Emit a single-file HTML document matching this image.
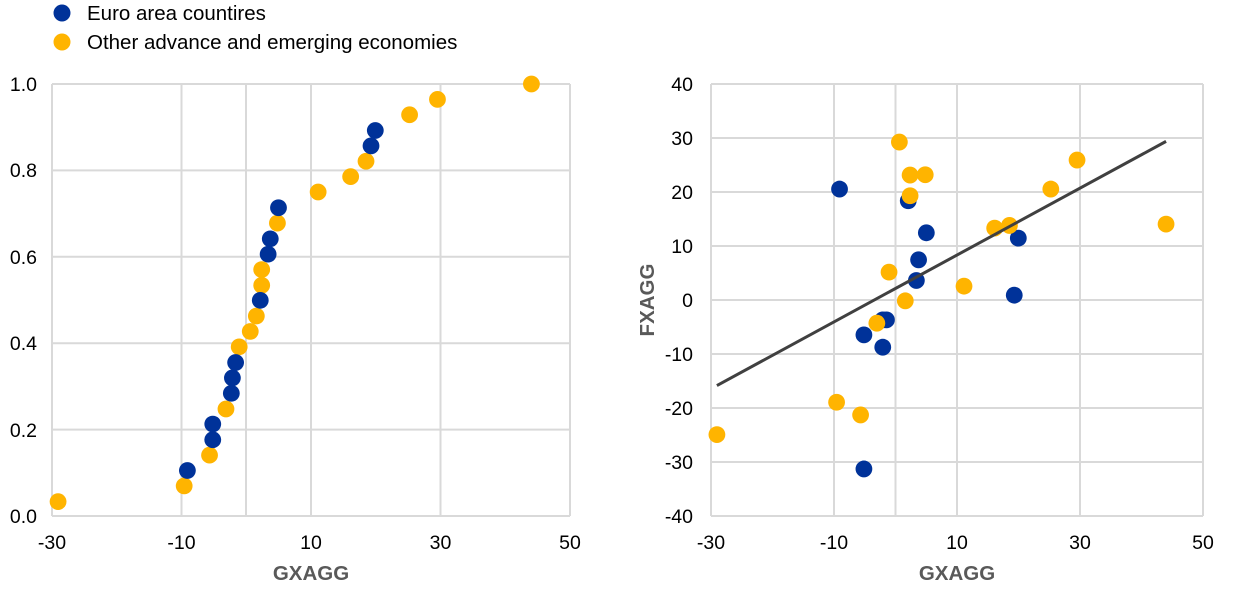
<!DOCTYPE html>
<html><head><meta charset="utf-8"><style>
body{margin:0;background:#fff;}
svg{display:block;font-family:"Liberation Sans",Arial,sans-serif;}
</style></head><body>
<svg width="1240" height="591" viewBox="0 0 1240 591">
<!-- legend -->
<circle cx="62" cy="13" r="8.5" fill="#003299"/>
<text x="87" y="20" font-size="20.5" fill="#000">Euro area countires</text>
<circle cx="62" cy="42" r="8.5" fill="#ffb400"/>
<text x="87" y="49" font-size="20.5" fill="#000">Other advance and emerging economies</text>

<!-- LEFT chart grid -->
<g stroke="#d9d9d9" stroke-width="2" fill="none">
<line x1="52" y1="84" x2="570" y2="84"/><line x1="52" y1="170.4" x2="570" y2="170.4"/>
<line x1="52" y1="256.8" x2="570" y2="256.8"/><line x1="52" y1="343.2" x2="570" y2="343.2"/>
<line x1="52" y1="429.6" x2="570" y2="429.6"/><line x1="52" y1="516" x2="570" y2="516"/>
<line x1="52" y1="84" x2="52" y2="516"/><line x1="181.5" y1="84" x2="181.5" y2="516"/>
<line x1="246" y1="84" x2="246" y2="516"/><line x1="311" y1="84" x2="311" y2="516"/>
<line x1="440.5" y1="84" x2="440.5" y2="516"/><line x1="570" y1="84" x2="570" y2="516"/>
</g>
<g font-size="19.5" fill="#000" text-anchor="end">
<text x="37" y="91">1.0</text><text x="37" y="177">0.8</text><text x="37" y="264">0.6</text>
<text x="37" y="350">0.4</text><text x="37" y="437">0.2</text><text x="37" y="523">0.0</text>
</g>
<g font-size="19.5" fill="#000" text-anchor="middle">
<text x="52" y="549">-30</text><text x="181.5" y="549">-10</text><text x="311" y="549">10</text>
<text x="440.5" y="549">30</text><text x="570" y="549">50</text>
</g>
<text x="311" y="580" font-size="20.5" font-weight="bold" fill="#595959" text-anchor="middle">GXAGG</text>

<g transform="translate(40.21,59.59) scale(0.35724,0.33437)">
<g fill="#ffb400">
<ellipse cx="50" cy="1322" rx="23.5" ry="25"/><ellipse cx="403" cy="1275" rx="23.5" ry="25"/>
<ellipse cx="474" cy="1183" rx="23.5" ry="25"/><ellipse cx="520" cy="1045" rx="23.5" ry="25"/>
<ellipse cx="557" cy="859" rx="23.5" ry="25"/><ellipse cx="588" cy="813" rx="23.5" ry="25"/>
<ellipse cx="605" cy="767" rx="23.5" ry="25"/><ellipse cx="620" cy="675" rx="23.5" ry="25"/>
<ellipse cx="620" cy="628" rx="23.5" ry="25"/><ellipse cx="664" cy="489" rx="23.5" ry="25"/>
<ellipse cx="778" cy="396" rx="23.5" ry="25"/><ellipse cx="869" cy="350" rx="23.5" ry="25"/>
<ellipse cx="912" cy="304" rx="23.5" ry="25"/><ellipse cx="1034" cy="165" rx="23.5" ry="25"/>
<ellipse cx="1112" cy="119" rx="23.5" ry="25"/><ellipse cx="1375" cy="73" rx="23.5" ry="25"/>
</g>
<g fill="#003299">
<ellipse cx="412" cy="1229" rx="23.5" ry="25"/><ellipse cx="483" cy="1137" rx="23.5" ry="25"/>
<ellipse cx="483" cy="1090" rx="23.5" ry="25"/><ellipse cx="535" cy="998" rx="23.5" ry="25"/>
<ellipse cx="538" cy="952" rx="23.5" ry="25"/><ellipse cx="547" cy="906" rx="23.5" ry="25"/>
<ellipse cx="616" cy="720" rx="23.5" ry="25"/><ellipse cx="638" cy="582" rx="23.5" ry="25"/>
<ellipse cx="644" cy="536" rx="23.5" ry="25"/><ellipse cx="667" cy="443" rx="23.5" ry="25"/>
<ellipse cx="926" cy="258" rx="23.5" ry="25"/><ellipse cx="938" cy="212" rx="23.5" ry="25"/>
</g>
</g>

<!-- RIGHT chart grid -->
<g stroke="#d9d9d9" stroke-width="2" fill="none">
<line x1="711" y1="84" x2="1203" y2="84"/><line x1="711" y1="138" x2="1203" y2="138"/>
<line x1="711" y1="192" x2="1203" y2="192"/><line x1="711" y1="246" x2="1203" y2="246"/>
<line x1="711" y1="300" x2="1203" y2="300"/><line x1="711" y1="354" x2="1203" y2="354"/>
<line x1="711" y1="408" x2="1203" y2="408"/><line x1="711" y1="462" x2="1203" y2="462"/>
<line x1="711" y1="516" x2="1203" y2="516"/>
<line x1="711" y1="84" x2="711" y2="516"/><line x1="834" y1="84" x2="834" y2="516"/>
<line x1="895.5" y1="84" x2="895.5" y2="516"/><line x1="957" y1="84" x2="957" y2="516"/>
<line x1="1080" y1="84" x2="1080" y2="516"/><line x1="1203" y1="84" x2="1203" y2="516"/>
</g>
<g font-size="19.5" fill="#000" text-anchor="end">
<text x="693" y="91">40</text><text x="693" y="145">30</text><text x="693" y="199">20</text>
<text x="693" y="253">10</text><text x="693" y="307">0</text><text x="693" y="361">-10</text>
<text x="693" y="415">-20</text><text x="693" y="469">-30</text><text x="693" y="523">-40</text>
</g>
<g font-size="19.5" fill="#000" text-anchor="middle">
<text x="711" y="549">-30</text><text x="834" y="549">-10</text><text x="957" y="549">10</text>
<text x="1080" y="549">30</text><text x="1203" y="549">50</text>
</g>
<text x="957" y="580" font-size="20.5" font-weight="bold" fill="#595959" text-anchor="middle">GXAGG</text>
<text transform="translate(654,300) rotate(-90)" font-size="20.5" font-weight="bold" fill="#595959" text-anchor="middle">FXAGG</text>

<g transform="translate(640.82,59.65) scale(0.36937,0.33359)">
<g fill="#003299">
<ellipse cx="538" cy="388" rx="22.7" ry="25.2"/><ellipse cx="604" cy="825" rx="22.7" ry="25.2"/>
<ellipse cx="604" cy="1227" rx="22.7" ry="25.2"/><ellipse cx="655" cy="862" rx="22.7" ry="25.2"/>
<ellipse cx="655" cy="780" rx="22.7" ry="25.2"/><ellipse cx="665" cy="780" rx="22.7" ry="25.2"/>
<ellipse cx="724" cy="423" rx="22.7" ry="25.2"/><ellipse cx="746" cy="662" rx="22.7" ry="25.2"/>
<ellipse cx="752" cy="600" rx="22.7" ry="25.2"/><ellipse cx="773" cy="519" rx="22.7" ry="25.2"/>
<ellipse cx="1011" cy="706" rx="22.7" ry="25.2"/><ellipse cx="1022" cy="535" rx="22.7" ry="25.2"/>
</g>
<g fill="#ffb400">
<ellipse cx="206" cy="1124" rx="22.7" ry="25.2"/><ellipse cx="530" cy="1027" rx="22.7" ry="25.2"/>
<ellipse cx="595" cy="1065" rx="22.7" ry="25.2"/><ellipse cx="639" cy="790" rx="22.7" ry="25.2"/>
<ellipse cx="672" cy="637" rx="22.7" ry="25.2"/><ellipse cx="700" cy="247" rx="22.7" ry="25.2"/>
<ellipse cx="716" cy="723" rx="22.7" ry="25.2"/><ellipse cx="729" cy="346" rx="22.7" ry="25.2"/>
<ellipse cx="729" cy="408" rx="22.7" ry="25.2"/><ellipse cx="770" cy="345" rx="22.7" ry="25.2"/>
<ellipse cx="875" cy="679" rx="22.7" ry="25.2"/><ellipse cx="958" cy="505" rx="22.7" ry="25.2"/>
<ellipse cx="998" cy="497" rx="22.7" ry="25.2"/><ellipse cx="1110" cy="388" rx="22.7" ry="25.2"/>
<ellipse cx="1181" cy="301" rx="22.7" ry="25.2"/><ellipse cx="1422" cy="493" rx="22.7" ry="25.2"/>
</g>
<line x1="206" y1="977" x2="1422" y2="245" stroke="#404040" stroke-width="3" vector-effect="non-scaling-stroke"/>
</g>
</svg>
</body></html>
